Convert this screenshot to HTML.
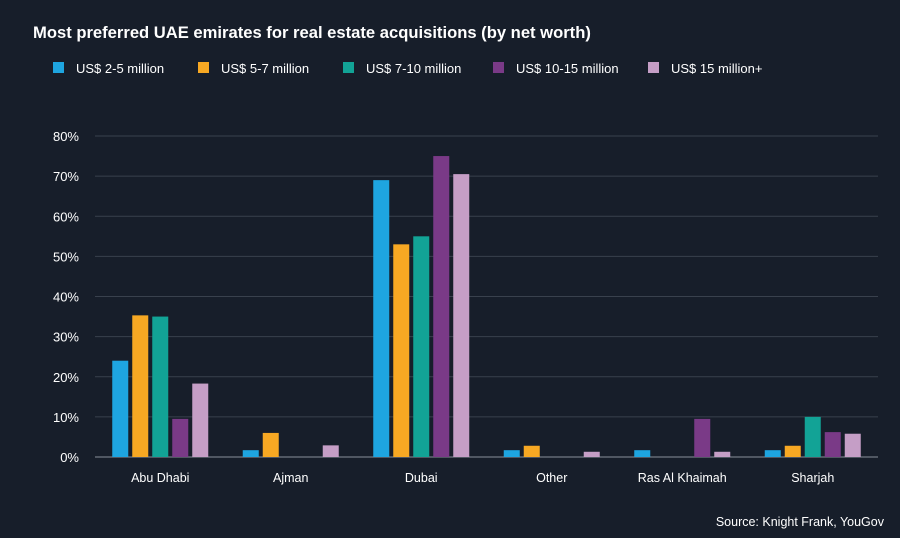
<!DOCTYPE html>
<html><head><meta charset="utf-8"><style>
body{margin:0;background:#171e2a;}
svg{display:block;font-family:"Liberation Sans",sans-serif;}
</style></head><body>
<svg id="c" width="900" height="538">
<rect width="900" height="538" fill="#171e2a"/>
<text x="33" y="38" fill="#fff" font-size="16.6" font-weight="bold">Most preferred UAE emirates for real estate acquisitions (by net worth)</text>
<text x="884" y="526" fill="#fff" font-size="12.5" text-anchor="end">Source: Knight Frank, YouGov</text>
<g id="grid"></g><g id="bars"></g><g id="legend"></g>
</svg>
<script>
const categories=["Abu Dhabi","Ajman","Dubai","Other","Ras Al Khaimah","Sharjah"];
const seriesNames=["US$ 2-5 million","US$ 5-7 million","US$ 7-10 million","US$ 10-15 million","US$ 15 million+"];
const s1=[24,1.7,69,1.7,1.7,1.7];
const s2=[35.3,6,53,2.8,0,2.8];
const s3=[35,0,55,0,0,10];
const s4=[9.5,0,75,0,9.5,6.2];
const s5=[18.3,2.9,70.5,1.3,1.3,5.8];
const ticks=[0,10,20,30,40,50,60,70,80];
const series=[s1,s2,s3,s4,s5];
const colors=["#1ea5e0","#f7a823","#12a396","#7a3a87","#c59ec6"];
const NS="http://www.w3.org/2000/svg";
const x0=95,x1=878,y0=457,y80=136;
const y=v=>y0-(v/80)*(y0-y80);
const band=(x1-x0)/categories.length;
function mk(t,a,p){const e=document.createElementNS(NS,t);for(const k in a)e.setAttribute(k,a[k]);p.appendChild(e);return e;}
const g=document.getElementById('grid');
ticks.forEach(t=>{
 const l=mk('line',{x1:x0,x2:x1,y1:y(t),y2:y(t),stroke:t===0?'#8a909a':'#39414d','stroke-width':1},g);
 
 
 const tx=mk('text',{x:79,y:y(t)+5,fill:'#fff','font-size':13,'text-anchor':'end'},g);
 tx.textContent=t+'%';
 
 
});
const b=document.getElementById('bars');
const bw=16,gap=4;
categories.forEach((c,i)=>{
 const cx=x0+band*(i+0.5);
 series.forEach((s,j)=>{
  const v=s[i];if(v<=0)return;
  const bx=cx-(5*bw+4*gap)/2+j*(bw+gap);
  const r=mk('rect',{x:bx,y:y(v),width:bw,height:y0-y(v),fill:colors[j]},b);
  
  
 });
 const t=mk('text',{x:cx,y:482,fill:'#fff','font-size':12.5,'text-anchor':'middle'},b);
 t.textContent=c;
 
 
});
const lg=document.getElementById('legend');
const lx=[53,198,343,493,648];
seriesNames.forEach((n,j)=>{
 const r=mk('rect',{x:lx[j],y:62,width:11,height:11,fill:colors[j]},lg);
 
 
 const t=mk('text',{x:lx[j]+23,y:73,fill:'#fff','font-size':13},lg);
 t.textContent=n;
 
 
});
</script>
</body></html>
